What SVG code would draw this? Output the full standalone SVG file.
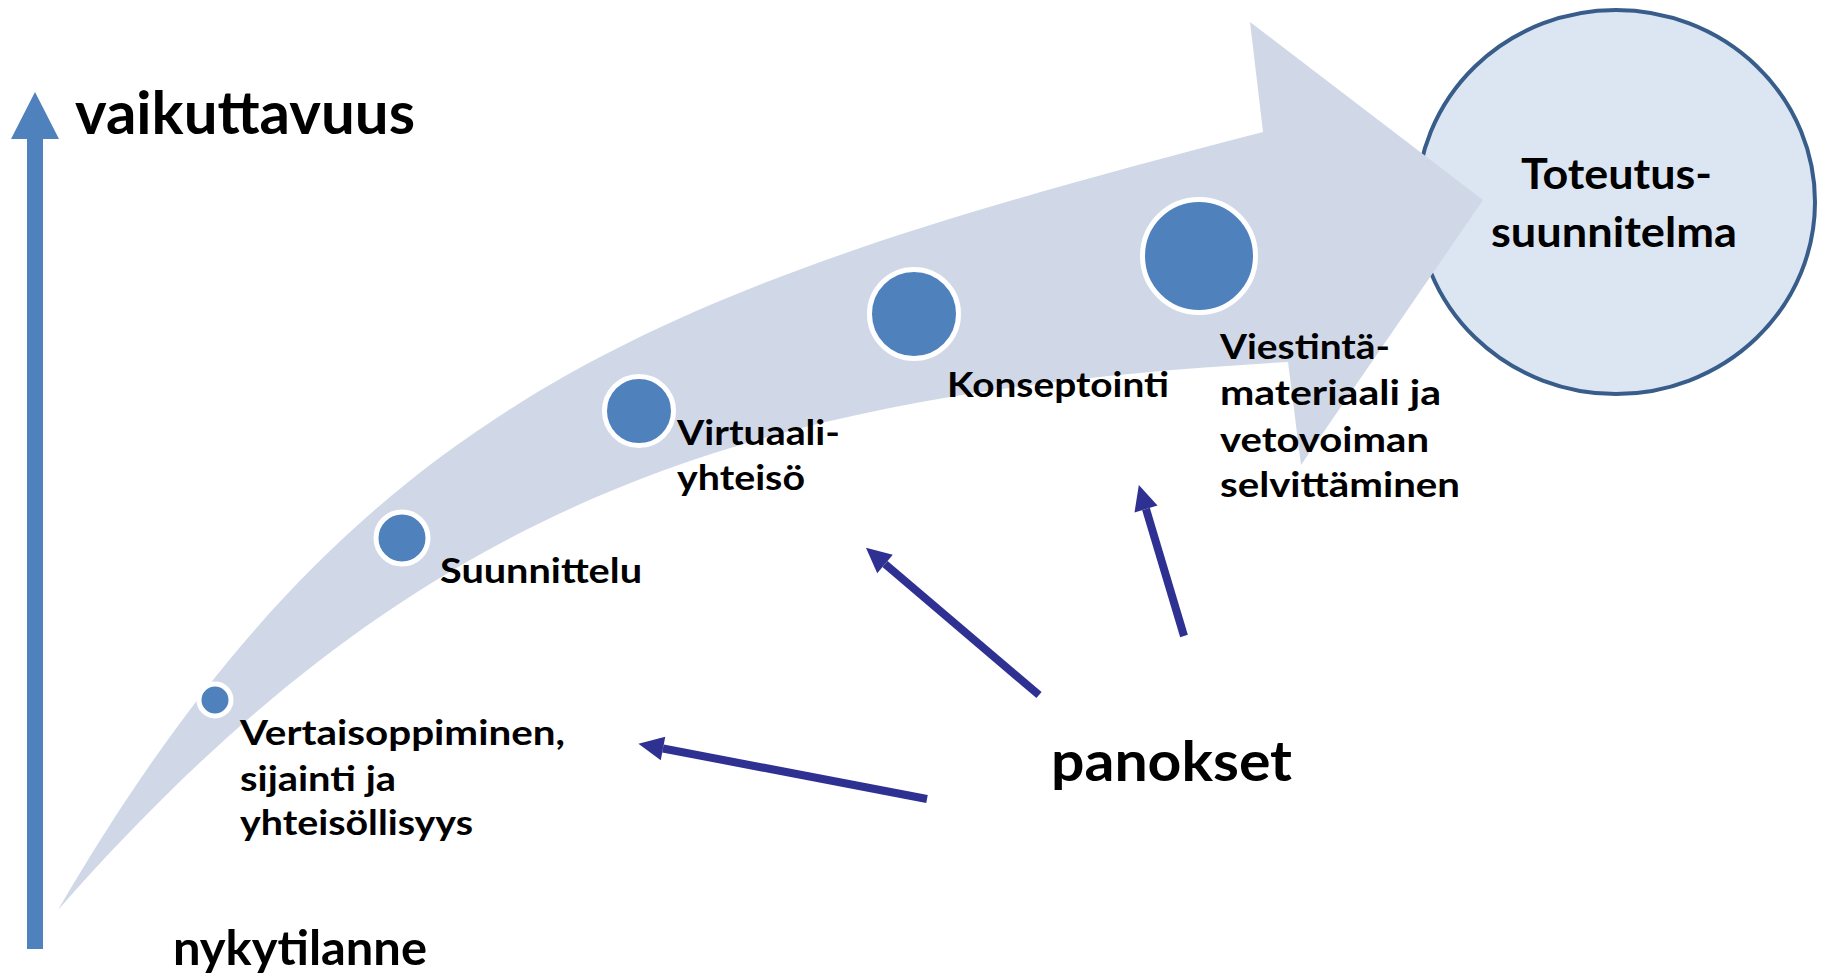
<svg xmlns="http://www.w3.org/2000/svg" width="1829" height="974" viewBox="0 0 1829 974">
<style>
text{font-family:Lato,"Open Sans","Liberation Sans",sans-serif;font-weight:700;fill:#000}
.lbl{font-size:34px}
.big{font-size:60px}
.dot{fill:#4f81bd;stroke:#fff;stroke-width:5}
.conn{stroke:#2e3192;stroke-width:8;fill:none;marker-end:url(#ah)}
</style>
<defs>
<marker id="ah" markerUnits="userSpaceOnUse" markerWidth="30" markerHeight="30" viewBox="0 -15 30 30" refX="0" refY="0" orient="auto" overflow="visible">
<path d="M0,-12 L25,0 L0,12 Z" fill="#2e3192"/>
</marker>
</defs>
<rect width="1829" height="974" fill="#fff"/>
<g id="axis">
<path d="M27,949 L27,139 L11,139 L35,92 L59,139 L43,139 L43,949 Z" fill="#4f81bd"/>
<text class="big" x="75" y="134" textLength="340" lengthAdjust="spacingAndGlyphs">vaikuttavuus</text>
<text x="173" y="965" font-size="48" textLength="254" lengthAdjust="spacingAndGlyphs">nykytilanne</text>
</g>
<g id="goal">
<ellipse cx="1616" cy="202" rx="199" ry="192" fill="#dce6f2" stroke="#385d8a" stroke-width="4"/>
</g>
<g id="path-arrow">
<path d="M58,910 C358,394 663,288 1263,132 L1250,22 L1483,200 L1301,465 L1288,362 C758,392 425,492 58,910 Z" fill="#d0d8e8"/>
</g>
<g id="goal-text">
<text x="1521" y="189" font-size="42" textLength="191" lengthAdjust="spacingAndGlyphs">Toteutus-</text>
<text x="1491" y="247" font-size="42" textLength="246" lengthAdjust="spacingAndGlyphs">suunnitelma</text>
</g>
<g id="n1">
<circle class="dot" cx="215" cy="700" r="16"/>
<text class="lbl" x="240" y="745" textLength="325" lengthAdjust="spacingAndGlyphs">Vertaisoppiminen,</text>
<text class="lbl" x="240" y="791" textLength="156" lengthAdjust="spacingAndGlyphs">sijainti ja</text>
<text class="lbl" x="240" y="835" textLength="233" lengthAdjust="spacingAndGlyphs">yhteisöllisyys</text>
</g>
<g id="n2">
<circle class="dot" cx="402" cy="538" r="26"/>
<text class="lbl" x="440" y="583" textLength="202" lengthAdjust="spacingAndGlyphs">Suunnittelu</text>
</g>
<g id="n3">
<circle class="dot" cx="639" cy="411" r="34.5"/>
<text class="lbl" x="677" y="445" textLength="163" lengthAdjust="spacingAndGlyphs">Virtuaali-</text>
<text class="lbl" x="677" y="490" textLength="128" lengthAdjust="spacingAndGlyphs">yhteisö</text>
</g>
<g id="n4">
<circle class="dot" cx="914" cy="314" r="44.5"/>
<text class="lbl" x="947" y="397" textLength="222" lengthAdjust="spacingAndGlyphs">Konseptointi</text>
</g>
<g id="n5">
<circle class="dot" cx="1199" cy="256" r="56.5"/>
<text class="lbl" x="1220" y="359" textLength="170" lengthAdjust="spacingAndGlyphs">Viestintä-</text>
<text class="lbl" x="1220" y="405" textLength="221" lengthAdjust="spacingAndGlyphs">materiaali ja</text>
<text class="lbl" x="1220" y="452" textLength="209" lengthAdjust="spacingAndGlyphs">vetovoiman</text>
<text class="lbl" x="1220" y="497" textLength="240" lengthAdjust="spacingAndGlyphs">selvittäminen</text>
</g>
<g id="inputs">
<text x="1051" y="781" font-size="56" textLength="241" lengthAdjust="spacingAndGlyphs">panokset</text>
</g>
<g id="connectors">
<line class="conn" x1="927" y1="799" x2="663" y2="748.5"/>
<line class="conn" x1="1039" y1="695" x2="885" y2="564"/>
<line class="conn" x1="1184" y1="636" x2="1146" y2="509"/>
</g>
</svg>
